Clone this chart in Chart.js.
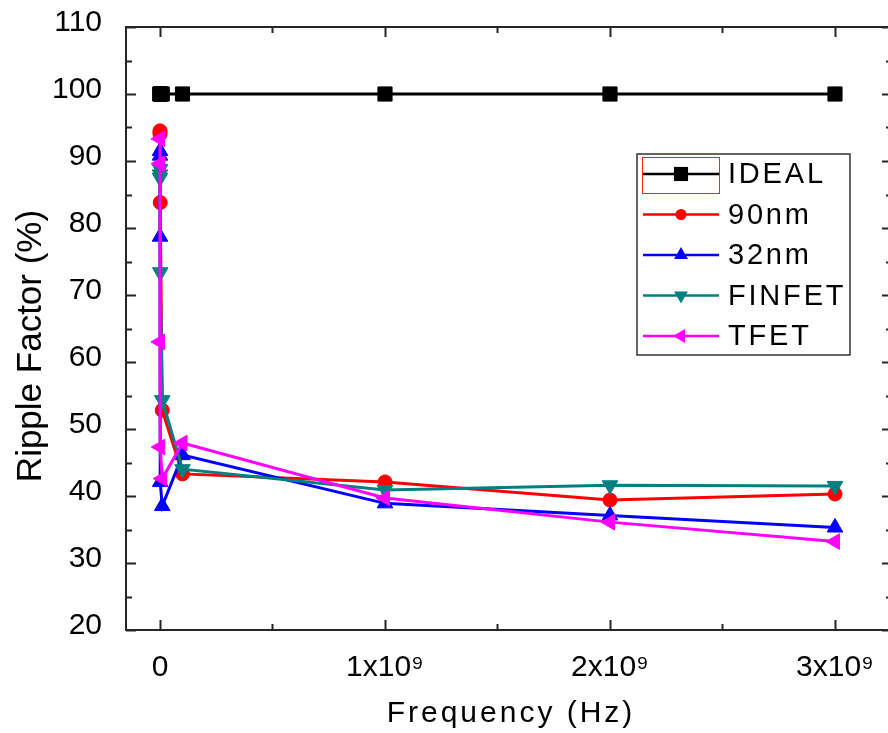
<!DOCTYPE html>
<html>
<head>
<meta charset="utf-8">
<title>Ripple Factor vs Frequency</title>
<script src="https://cdn.jsdelivr.net/npm/chart.js@4/dist/chart.umd.min.js"></script>
<style>
  html, body { margin: 0; padding: 0; background: #fff; }
  #chart { display: block; }
</style>
</head>
<body>
<canvas id="chart" width="888" height="733"></canvas>
<script>
// Frequency sweep points (Hz)
const frequency = [1e3, 1e4, 1e5, 1e6, 1e7, 1e8, 1e9, 2e9, 3e9];

// Ripple factor (%) for each device
const ideal  = [100, 100, 100, 100, 100, 100, 100, 100, 100];
const nm90   = [94.5, 94.3, 94.0, 83.8, 52.8, 43.3, 42.1, 39.4, 40.3];
const nm32   = [91.5, 90.8, 78.7, 42.1, 38.5, 46.1, 38.9, 37.1, 35.3];
const finfet = [88.8, 88.0, 87.5, 73.4, 54.3, 44.0, 40.9, 41.6, 41.5];
const tfet   = [93.3, 89.6, 63.0, 47.3, 42.6, 47.9, 39.7, 36.1, 33.2];

const seriesNames = ['IDEAL', '90nm', '32nm', 'FINFET', 'TFET'];

// Axis ticks
const xTicks = [0, 1e9, 2e9, 3e9];
const xMinorTicks = [0.5e9, 1.5e9, 2.5e9];
const yTicks = [20, 30, 40, 50, 60, 70, 80, 90, 100, 110];
const yMinorTicks = [25, 35, 45, 55, 65, 75, 85, 95, 105];

// Marker look for each series
const seriesColors = ['#000000', '#ff0000', '#0000ff', '#008080', '#ff00ff'];
const markerStyles = ['rect', 'circle', 'triangle', 'triangle', 'triangle'];
const markerRotations = [0, 0, 0, 180, -90];
const markerRadius = [10, 7, 9, 9, 9];
const legendMarkerRadius = [10, 5.5, 8, 8, 8];

const FONT = "'Liberation Sans', Arial, sans-serif";

const seriesValues = [ideal, nm90, nm32, finfet, tfet];

const datasets = seriesValues.map((values, i) => ({
    label: seriesNames[i],
    data: values.map((v, k) => ({ x: frequency[k], y: v })),
    borderColor: seriesColors[i],
    backgroundColor: seriesColors[i],
    borderWidth: 3,
    pointStyle: markerStyles[i],
    pointRotation: markerRotations[i],
    pointRadius: markerRadius[i],
    pointHoverRadius: markerRadius[i],
    pointBorderWidth: 1,
    pointBorderColor: seriesColors[i],
    pointBackgroundColor: seriesColors[i],
    tension: 0,
    fill: false,
    // later series are painted over earlier ones
    order: seriesValues.length - 1 - i
}));

function setSpacing(ctx, px) {
    if ('letterSpacing' in ctx) ctx.letterSpacing = px + 'px';
}

// Small marker painter for the legend samples
function drawMarker(ctx, style, rotation, r, x, y) {
    ctx.beginPath();
    if (style === 'rect') {
        const s = r * Math.SQRT1_2;
        ctx.rect(x - s, y - s, 2 * s, 2 * s);
    } else if (style === 'circle') {
        ctx.arc(x, y, r, 0, Math.PI * 2);
    } else {
        let rad = rotation * Math.PI / 180;
        ctx.moveTo(x + Math.sin(rad) * r, y - Math.cos(rad) * r);
        for (let k = 0; k < 2; k++) {
            rad += Math.PI * 2 / 3;
            ctx.lineTo(x + Math.sin(rad) * r, y - Math.cos(rad) * r);
        }
        ctx.closePath();
    }
    ctx.fill();
}

// Keep the plot box where the layout puts it: no extra room for label overhang
function fixScaleSize(prop, size) {
    return scale => {
        scale[prop] = size;
        scale.paddingLeft = 0;
        scale.paddingRight = 0;
        scale.paddingTop = 0;
        scale.paddingBottom = 0;
    };
}

// Frame with inward ticks on all four sides; the right edge sits just past the canvas
const framePlugin = {
    id: 'boxFrame',
    afterDraw(chart) {
        const ctx = chart.ctx;
        const a = chart.chartArea;
        const xs = chart.scales.x;
        const ys = chart.scales.y;
        const rightEdge = a.right + 4;
        ctx.save();
        ctx.strokeStyle = '#262626';
        ctx.lineWidth = 2;
        ctx.strokeRect(a.left, a.top, rightEdge - a.left, a.bottom - a.top);

        ctx.beginPath();
        const xMarks = (values, len) => values.forEach(v => {
            const px = Math.round(xs.getPixelForValue(v)) + 0.5;
            ctx.moveTo(px, a.bottom); ctx.lineTo(px, a.bottom - len);
            ctx.moveTo(px, a.top);    ctx.lineTo(px, a.top + len);
        });
        const yMarks = (values, len) => values.forEach(v => {
            const py = Math.round(ys.getPixelForValue(v)) + 0.5;
            ctx.moveTo(a.left, py);    ctx.lineTo(a.left + len, py);
            ctx.moveTo(rightEdge, py); ctx.lineTo(rightEdge - len, py);
        });
        xMarks(xTicks, 10);
        xMarks(xMinorTicks, 6);
        yMarks(yTicks, 10);
        yMarks(yMinorTicks, 6);
        ctx.stroke();
        ctx.restore();
    }
};

// Axis titles
const titlePlugin = {
    id: 'axisTitles',
    afterDraw(chart) {
        const ctx = chart.ctx;
        ctx.save();
        ctx.fillStyle = '#000';
        ctx.textAlign = 'center';
        ctx.textBaseline = 'alphabetic';

        ctx.font = '30px ' + FONT;
        setSpacing(ctx, 3);
        ctx.fillText('Frequency (Hz)', 511, 722);

        setSpacing(ctx, 0);
        ctx.font = '35px ' + FONT;
        ctx.translate(41, 346);
        ctx.rotate(-Math.PI / 2);
        ctx.fillText('Ripple Factor (%)', 0, 0);
        ctx.restore();
    }
};

// Boxed legend in the upper right of the plot
const legendPlugin = {
    id: 'boxLegend',
    afterDraw(chart) {
        const ctx = chart.ctx;
        const box = { left: 637, top: 154, right: 850, bottom: 355 };
        const rowTop = 174;
        const rowStep = 40.5;
        const lineX0 = 643, lineX1 = 719, textX = 728;

        ctx.save();
        ctx.fillStyle = '#fff';
        ctx.fillRect(box.left, box.top, box.right - box.left, box.bottom - box.top);
        ctx.strokeStyle = '#333';
        ctx.lineWidth = 1.5;
        ctx.strokeRect(box.left, box.top, box.right - box.left, box.bottom - box.top);

        chart.data.datasets.forEach((ds, i) => {
            const y = rowTop + i * rowStep;
            ctx.strokeStyle = ds.borderColor;
            ctx.fillStyle = ds.borderColor;
            ctx.lineWidth = 2.5;
            ctx.beginPath();
            ctx.moveTo(lineX0, y);
            ctx.lineTo(lineX1, y);
            ctx.stroke();
            drawMarker(ctx, markerStyles[i], markerRotations[i], legendMarkerRadius[i], (lineX0 + lineX1) / 2, y);

            ctx.fillStyle = '#000';
            ctx.font = '29px ' + FONT;
            ctx.textAlign = 'left';
            ctx.textBaseline = 'middle';
            setSpacing(ctx, 2.8);
            ctx.fillText(ds.label, textX, y + 1);
            setSpacing(ctx, 0);
        });

        // selection outline around the first sample
        ctx.strokeStyle = '#ff2020';
        ctx.lineWidth = 1;
        ctx.strokeRect(642.5, 157.5, 77, 36);
        ctx.restore();
    }
};

function xLabel(value) {
    if (value === 0) return '0';
    return (value / 1e9) + 'x10\u2079';
}

const chart = new Chart(document.getElementById('chart'), {
    type: 'line',
    data: { datasets: datasets },
    options: {
        responsive: false,
        animation: false,
        layout: {
            autoPadding: false,
            padding: { left: 0, top: 27, right: 0, bottom: 0 }
        },
        plugins: {
            legend: { display: false },
            title: { display: false },
            tooltip: { enabled: false }
        },
        scales: {
            x: {
                type: 'linear',
                min: -0.1511e9,
                max: 3.2356e9,
                grid: { display: false },
                border: { display: false },
                afterBuildTicks: scale => { scale.ticks = xTicks.map(v => ({ value: v })); },
                afterFit: fixScaleSize('height', 103),
                ticks: {
                    color: '#000',
                    font: { family: FONT, size: 30 },
                    padding: 12,
                    maxRotation: 0,
                    callback: xLabel
                }
            },
            y: {
                type: 'linear',
                min: 20,
                max: 110,
                grid: { display: false },
                border: { display: false },
                afterBuildTicks: scale => { scale.ticks = yTicks.map(v => ({ value: v })); },
                afterFit: fixScaleSize('width', 126),
                ticks: {
                    color: '#000',
                    font: { family: FONT, size: 30 },
                    padding: 16,
                    labelOffset: -4
                }
            }
        }
    },
    plugins: [framePlugin, titlePlugin, legendPlugin]
});
</script>
</body>
</html>
